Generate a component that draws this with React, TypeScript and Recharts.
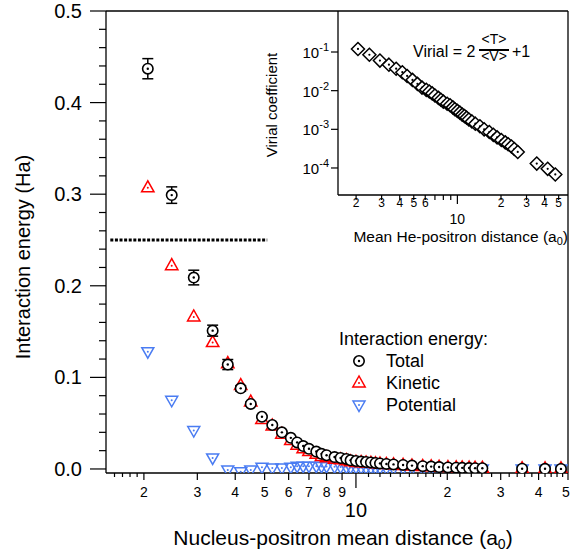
import React from 'react';
import { ScatterChart, Scatter, XAxis, YAxis, ErrorBar, ReferenceLine, Legend, Label } from 'recharts';

const FONT = '"Liberation Sans", Arial, Helvetica, sans-serif';
const RED = '#ff0000';
const BLUE = '#4a7cf2';

// nucleus-positron mean distance (a0), shared by main plot and inset
const distance = [
  2.06, 2.47, 2.92, 3.37, 3.78, 4.17, 4.5, 4.9, 5.3, 5.7,
  6.1, 6.4, 6.7, 7.0, 7.4, 7.7, 8.0, 8.5, 8.9, 9.3,
  9.6, 10.0, 10.4, 10.8, 11.2, 11.6, 12.0, 12.6, 13.3, 14.3,
  15.3, 16.6, 17.7, 18.8, 20.1, 21.4, 22.4, 23.6, 24.7, 26.1,
  35.3, 42.0, 47.4,
];

const totalEnergy = [
  0.437, 0.299, 0.209, 0.151, 0.114, 0.088, 0.071, 0.057, 0.048, 0.040,
  0.034, 0.029, 0.025, 0.022, 0.019, 0.0165, 0.015, 0.013, 0.012, 0.011,
  0.0095, 0.0087, 0.0081, 0.0076, 0.0071, 0.0066, 0.0061, 0.0055, 0.0050, 0.0044,
  0.0037, 0.0031, 0.0026, 0.0021, 0.0017, 0.0014, 0.0012, 0.0010, 0.0009, 0.0008,
  0.0003, 0.0002, 0.0001,
];

const totalError = [
  0.011, 0.009, 0.008, 0.006, 0.0055, 0.003, 0.002, 0.001, 0.001, 0.001,
  0.001, 0.001, 0.001, 0.001, 0.001, 0.001, 0.001, 0.001, 0.001, 0.001,
  0.001, 0.001, 0.001, 0.001, 0.001, 0.001, 0.001, 0.001, 0.001, 0.001,
  0.001, 0.001, 0.001, 0.001, 0.001, 0.001, 0.001, 0.001, 0.001, 0.001,
  0.001, 0.001, 0.001,
];

const kineticEnergy = [
  0.307, 0.222, 0.166, 0.138, 0.115, 0.091, 0.073, 0.054, 0.047, 0.038,
  0.031, 0.026, 0.022, 0.019, 0.016, 0.0137, 0.0123, 0.0106, 0.0100, 0.0091,
  0.0078, 0.0072, 0.0069, 0.0066, 0.0062, 0.0058, 0.0054, 0.0049, 0.0045, 0.0039,
  0.0033, 0.0028, 0.0024, 0.0019, 0.0016, 0.0013, 0.0011, 0.0009, 0.0008, 0.0007,
  0.0003, 0.0002, 0.0001,
];

const potentialEnergy = [
  0.128, 0.075, 0.042, 0.012, -0.001, -0.003, -0.001, 0.002, 0.001, 0.001,
  0.002, 0.003, 0.003, 0.003, 0.003, 0.0028, 0.0027, 0.0024, 0.0021, 0.0019,
  0.0017, 0.0015, 0.0013, 0.0011, 0.001, 0.0009, 0.0008, 0.0007, 0.0006, 0.0005,
  0.0004, 0.0003, 0.0002, 0.0002, 0.0001, 0.0001, 0.0001, 0.0001, 0.0001, 0.0001,
  0, 0, 0,
];

const virialCoefficient = [
  0.12, 0.085, 0.06, 0.047, 0.037, 0.030, 0.024, 0.019, 0.015, 0.012,
  0.0105, 0.0095, 0.0085, 0.0075, 0.0065, 0.0058, 0.0052, 0.0046, 0.0042, 0.0037,
  0.0033, 0.0030, 0.0027, 0.0024, 0.0022, 0.0020, 0.0018, 0.0016, 0.0014, 0.0012,
  0.0010, 0.00085, 0.00072, 0.00062, 0.00053, 0.00046, 0.00041, 0.00036, 0.00031, 0.00026,
  0.00013, 0.000095, 0.000068,
];

const mainXTicks = [
  1.6, 1.7, 1.8, 1.9, 2, 3, 4, 5, 6, 7, 8, 9, 10,
  11, 12, 13, 14, 15, 16, 17, 18, 19, 20,
  22, 24, 26, 28, 30, 32, 34, 36, 38, 40, 42, 44, 46, 48, 50,
];
const mainXLabelled = [2, 3, 4, 5, 6, 7, 8, 9, 20, 30, 40, 50];

const mainYTicks = [
  0, 0.02, 0.04, 0.06, 0.08, 0.1, 0.12, 0.14, 0.16, 0.18, 0.2, 0.22, 0.24,
  0.26, 0.28, 0.3, 0.32, 0.34, 0.36, 0.38, 0.4, 0.42, 0.44, 0.46, 0.48, 0.5,
];

const insetXTicks = [2, 3, 4, 5, 6, 7, 8, 9, 10, 20, 30, 40, 50];
const insetXLabelled = [2, 3, 4, 5, 6, 20, 30, 40, 50];
const insetYTicks = [0.0001, 0.001, 0.01, 0.1];

const totalData = distance.map((x, i) => ({ x, y: totalEnergy[i], err: totalError[i] }));
const kineticData = distance.map((x, i) => ({ x, y: kineticEnergy[i] }));
const potentialData = distance.map((x, i) => ({ x, y: potentialEnergy[i] }));
const virialData = distance.map((x, i) => ({ x, y: virialCoefficient[i] }));

const TotalMarker = ({ cx, cy }: any) => (
  <g>
    <circle cx={cx} cy={cy} r={5.2} fill="#fff" stroke="#000" strokeWidth={1.6} />
    <circle cx={cx} cy={cy} r={1.2} fill="#000" />
  </g>
);

const KineticMarker = ({ cx, cy }: any) => (
  <g>
    <polygon points={`${cx},${cy - 7} ${cx - 6.2},${cy + 4} ${cx + 6.2},${cy + 4}`} fill="none" stroke={RED} strokeWidth={1.5} />
    <circle cx={cx} cy={cy} r={1} fill={RED} />
  </g>
);

const PotentialMarker = ({ cx, cy }: any) => (
  <g>
    <polygon points={`${cx - 6},${cy - 4} ${cx + 6},${cy - 4} ${cx},${cy + 6.5}`} fill="none" stroke={BLUE} strokeWidth={1.5} />
    <circle cx={cx} cy={cy} r={1} fill={BLUE} />
  </g>
);

const DiamondMarker = ({ cx, cy }: any) => (
  <g>
    <polygon points={`${cx},${cy - 6.5} ${cx + 6.5},${cy} ${cx},${cy + 6.5} ${cx - 6.5},${cy}`} fill="#fff" stroke="#000" strokeWidth={1.5} />
    <circle cx={cx} cy={cy} r={1.1} fill="#000" />
  </g>
);

const MainXTick = ({ x, y, payload }: any) => {
  const v = payload.value;
  const labelled = mainXLabelled.includes(v);
  const len = v === 10 ? 15 : labelled ? 7 : 4;
  return (
    <g>
      <line x1={x} x2={x} y1={y} y2={y + len} stroke="#000" strokeWidth={1.2} />
      {labelled && (
        <text x={v === 50 ? x - 2 : x} y={y + 24} textAnchor="middle" fontSize={14} fill="#000">
          {v < 10 ? v : v / 10}
        </text>
      )}
      {v === 10 && (
        <text x={x} y={y + 44} textAnchor="middle" fontSize={20} fill="#000">10</text>
      )}
    </g>
  );
};

const MainYTick = ({ x, y, payload }: any) => {
  const v = payload.value;
  const major = Math.abs(v * 10 - Math.round(v * 10)) < 1e-6;
  return (
    <g>
      <line x1={x - (major ? 16 : 7)} x2={x} y1={y} y2={y} stroke="#000" strokeWidth={1.2} />
      {major && (
        <text x={x - 24} y={y + 7} textAnchor="end" fontSize={20} fill="#000">{v.toFixed(1)}</text>
      )}
    </g>
  );
};

const InsetXTick = ({ x, y, payload }: any) => {
  const v = payload.value;
  const labelled = insetXLabelled.includes(v);
  return (
    <g>
      <line x1={x} x2={x} y1={y} y2={y + (v === 10 ? 9 : 5)} stroke="#000" strokeWidth={1.2} />
      {labelled && (
        <text x={x} y={y + 12} textAnchor="middle" fontSize={12} fill="#000">{v < 10 ? v : v / 10}</text>
      )}
      {v === 10 && (
        <text x={x} y={y + 29} textAnchor="middle" fontSize={14} fill="#000">10</text>
      )}
    </g>
  );
};

const InsetYTick = ({ x, y, payload }: any) => {
  const exp = Math.round(Math.log10(payload.value));
  return (
    <g>
      <line x1={x - 7} x2={x} y1={y} y2={y} stroke="#000" strokeWidth={1.2} />
      <text x={x - 9} y={y + 6} textAnchor="end" fontSize={15} fill="#000">
        10<tspan dy={-7} fontSize={11}>{exp}</tspan>
      </text>
    </g>
  );
};

const renderLegend = () => (
  <svg width={200} height={100} style={{ fontFamily: FONT }}>
    <text x={9} y={25} fontSize={18} fill="#000">Interaction energy:</text>
    <TotalMarker cx={29} cy={41} />
    <text x={56} y={47} fontSize={18} fill="#000">Total</text>
    <KineticMarker cx={29} cy={63} />
    <text x={56} y={69} fontSize={18} fill="#000">Kinetic</text>
    <PotentialMarker cx={29} cy={85} />
    <text x={56} y={91} fontSize={18} fill="#000">Potential</text>
  </svg>
);

export default function App() {
  return (
    <div style={{ position: 'absolute', left: 0, top: 0, width: 570, height: 554, background: '#fff', fontFamily: FONT }}>
      <ScatterChart width={570} height={554} margin={{ top: 11, right: 2, bottom: 0, left: 0 }}>
        <XAxis
          type="number" dataKey="x" scale="log" domain={[1.5, 50]} allowDataOverflow
          ticks={mainXTicks} interval={0} tick={(p: any) => <MainXTick {...p} />}
          tickLine={false} tickSize={0} tickMargin={0} height={81}
          axisLine={{ stroke: '#000', strokeWidth: 1.3 }}
        >
          <Label content={() => (
            <text x={343} y={545} textAnchor="middle" fontSize={21} fill="#000">
              Nucleus-positron mean distance (a<tspan dy={4} fontSize={14}>0</tspan><tspan dy={-4}>)</tspan>
            </text>
          )} />
        </XAxis>
        <YAxis
          type="number" dataKey="y" domain={[-0.0044, 0.5]} allowDataOverflow
          ticks={mainYTicks} interval={0} tick={(p: any) => <MainYTick {...p} />}
          tickLine={false} tickSize={0} tickMargin={0} width={106}
          axisLine={{ stroke: '#000', strokeWidth: 1.3 }}
        >
          <Label content={() => (
            <text x={30} y={257} transform="rotate(-90 30 257)" textAnchor="middle" fontSize={20} fill="#000">
              Interaction energy (Ha)
            </text>
          )} />
        </YAxis>
        <ReferenceLine y={0.5} stroke="#000" strokeWidth={1.3} />
        <ReferenceLine x={50} stroke="#000" strokeWidth={1.3} />
        <ReferenceLine
          segment={[{ x: 1.55, y: 0.25 }, { x: 5.1, y: 0.25 }]}
          stroke="#000" strokeWidth={3} strokeDasharray="3 1.6"
        />
        <Scatter name="Potential" data={potentialData} shape={PotentialMarker} isAnimationActive={false} />
        <Scatter name="Kinetic" data={kineticData} shape={KineticMarker} isAnimationActive={false} />
        <Scatter name="Total" data={totalData} shape={TotalMarker} isAnimationActive={false}>
          <ErrorBar dataKey="err" direction="y" width={5.5} stroke="#000" strokeWidth={1.5} />
        </Scatter>
        <Legend
          content={renderLegend} layout="vertical" align="center" verticalAlign="middle"
          wrapperStyle={{ left: 330, top: 320, width: 200, height: 100 }}
        />
      </ScatterChart>

      <div style={{ position: 'absolute', left: 250, top: 0 }}>
        <ScatterChart width={320} height={252} margin={{ top: 11, right: 2, bottom: 7, left: 0 }}>
          <XAxis
            type="number" dataKey="x" scale="log" domain={[1.5, 58]} allowDataOverflow
            ticks={insetXTicks} interval={0} tick={(p: any) => <InsetXTick {...p} />}
            tickLine={false} tickSize={0} tickMargin={0} height={50}
            axisLine={{ stroke: '#000', strokeWidth: 1.3 }}
          >
            <Label content={() => (
              <text x={318} y={242} textAnchor="end" fontSize={15.5} fill="#000">
                Mean He-positron distance (a<tspan dy={3} fontSize={11}>0</tspan><tspan dy={-3}>)</tspan>
              </text>
            )} />
          </XAxis>
          <YAxis
            type="number" dataKey="y" scale="log" domain={[0.00002, 1.15]} allowDataOverflow
            ticks={insetYTicks} interval={0} tick={(p: any) => <InsetYTick {...p} />}
            tickLine={false} tickSize={0} tickMargin={0} width={88}
            axisLine={{ stroke: '#000', strokeWidth: 1.3 }}
          >
            <Label content={() => (
              <text x={27} y={105} transform="rotate(-90 27 105)" textAnchor="middle" fontSize={15} fill="#000">
                Virial coefficient
              </text>
            )} />
          </YAxis>
          <Scatter name="Virial" data={virialData} shape={DiamondMarker} isAnimationActive={false} />
        </ScatterChart>
        <svg width={320} height={70} style={{ position: 'absolute', left: 0, top: 0, fontFamily: FONT }}>
          <text x={163} y={57} fontSize={16} fill="#000">Virial = 2</text>
          <text x={244} y={44} textAnchor="middle" fontSize={14} fill="#000">&lt;T&gt;</text>
          <line x1={229} x2={259} y1={50} y2={50} stroke="#000" strokeWidth={2} />
          <text x={244} y={61} textAnchor="middle" fontSize={14} fill="#000">&lt;V&gt;</text>
          <text x={262} y={57} fontSize={16} fill="#000">+1</text>
        </svg>
      </div>
    </div>
  );
}
